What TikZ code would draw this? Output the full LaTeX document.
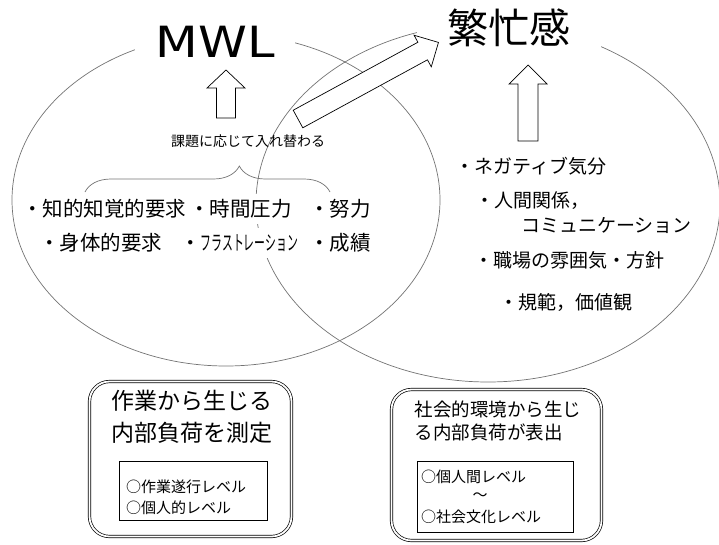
\documentclass[tikz,border=0pt]{standalone}
\usepackage{graphicx}
\usepackage{fontspec}
\setmainfont{Noto Sans CJK JP}
\newfontfamily\mwlfont{DejaVu Sans}
\usetikzlibrary{decorations.pathreplacing}
\definecolor{ringgray}{gray}{0.45}
\tikzset{
  ring/.style={draw=ringgray, line width=0.7pt},
  head/.style={fill=white, inner sep=2pt},
  factor/.style={anchor=west, fill=white, inner xsep=1pt, inner ysep=6pt, font=\fontsize{20.5}{24}\selectfont},
  social/.style={anchor=west, inner sep=1pt, font=\fontsize{19}{23}\selectfont},
  hollow/.style={draw=black, fill=white, line width=0.7pt, line join=miter},
  panel/.style={draw=black, double=white, double distance=1.8pt, line width=0.7pt, rounded corners=20pt},
  levelbox/.style={draw=black, line width=0.7pt},
  level/.style={anchor=west, inner sep=0pt, font=\fontsize{15}{20}\selectfont},
}
\begin{document}
\begin{tikzpicture}[x=1pt, y=-1pt]
  \useasboundingbox (0,0) rectangle (719,544);
  % the two fields
  \draw[ring] (226,200) ellipse [x radius=214pt, y radius=166pt];
  \draw[ring] (488,203) ellipse [x radius=232pt, y radius=179pt];
  % headings
  \node[head, minimum width=160pt, minimum height=46pt] (mwl) at (215,42)
    {\mwlfont\fontsize{43}{43}\selectfont\scalebox{1.15}[1]{MWL}};
  \node[head, minimum width=184pt, minimum height=50pt] (busy) at (509,28)
    {\fontsize{41}{41}\selectfont 繁忙感};
  % left field
  \node (swap) at (248,141) {\fontsize{14}{16}\selectfont 課題に応じて入れ替わる};
  \node[factor] (cog) at (21,209) {・知的知覚的要求};
  \node[factor] (time) at (188,209) {・時間圧力};
  \node[factor] (effort) at (308,209) {・努力};
  \node[factor] (phys) at (38,243) {・身体的要求};
  \node[factor] (frus) at (179,243) {・\scalebox{0.53}[1]{フラストレーション}};
  \node[factor] (perf) at (308,243) {・成績};
  \coordinate (braceL) at (85,192);
  \coordinate (braceR) at (330,192);
  \draw[ring, decorate, decoration={brace, amplitude=26pt, aspect=0.63}] (braceL) -- (braceR);
  % right field
  \node[social] (mood) at (454,166) {・ネガティブ気分};
  \node[social] (rel) at (474,201) {・人間関係，};
  \node[social] (comm) at (520,226) {コミュニケーション};
  \node[social] (climate) at (473,260) {・職場の雰囲気・方針};
  \node[social] (norm) at (498,302) {・規範，価値観};
  % block arrows
  \draw[hollow, shift={(226,118)}, rotate=90]
    (0,-9.5) -- (30,-9.5) -- (30,-19) -- (48,0) -- (30,19) -- (30,9.5) -- (0,9.5) -- cycle;
  \draw[hollow, shift={(528,141)}, rotate=90]
    (0,-10) -- (57,-10) -- (57,-19) -- (76,0) -- (57,19) -- (57,10) -- (0,10) -- cycle;
  \draw[hollow, shift={(298,119)}, rotate=28.6]
    (0,-10) -- (142,-10) -- (142,-18) -- (160,0) -- (142,18) -- (142,10) -- (0,10) -- cycle;
  % bottom panels
  \node[panel, minimum width=202pt, minimum height=155pt] (taskpanel) at (190.5,459) {};
  \node[font=\fontsize{23}{32}\selectfont, align=center] (tasktitle) at (192,417)
    {作業から生じる\\内部負荷を測定};
  \node[levelbox, minimum width=148pt, minimum height=59pt] (taskbox) at (193,490.5) {};
  \node[level] (taskA) at (126,487) {○作業遂行レベル};
  \node[level] (taskB) at (126,508) {○個人的レベル};
  \node[panel, minimum width=210pt, minimum height=151pt] (socialpanel) at (496.5,465) {};
  \node[font=\fontsize{18.5}{23}\selectfont, align=left, anchor=west] (socialtitle) at (411,420.5)
    {社会的環境から生じ\\る内部負荷が表出};
  \node[levelbox, minimum width=156pt, minimum height=71pt] (socialbox) at (495,496.5) {};
  \node[level] (socA) at (421,477) {○個人間レベル};
  \node[level, anchor=center] (tilde) at (480,497) {～};
  \node[level] (socB) at (421,517) {○社会文化レベル};
\end{tikzpicture}
\end{document}
